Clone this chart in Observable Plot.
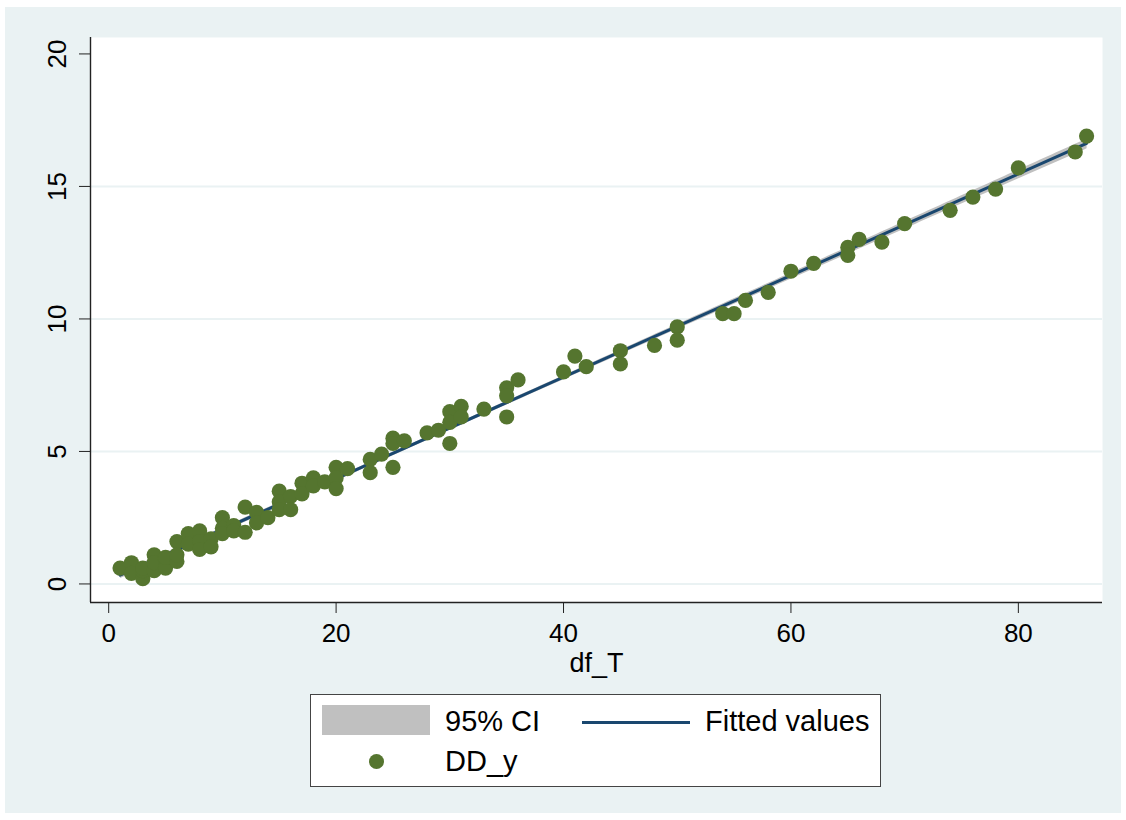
<!DOCTYPE html>
<html><head><meta charset="utf-8">
<script src="https://cdn.jsdelivr.net/npm/d3@7"></script>
<script src="https://cdn.jsdelivr.net/npm/@observablehq/plot@0.6"></script>
<style>
body{margin:0;background:#fff;width:1126px;height:820px;position:relative;overflow:hidden;font-family:"Liberation Sans",Arial,Helvetica,sans-serif;color:#000;}
#bg{position:absolute;left:5px;top:7px;width:1116px;height:806px;background:#EAF2F3;}
#chart{position:absolute;left:0;top:0;}
#legend{position:absolute;left:310px;top:694px;width:571px;height:93px;box-sizing:border-box;border:1.5px solid #444;background:#fff;}
#legend .it{position:absolute;}
#legend .tx{position:absolute;font-size:29px;line-height:30px;white-space:nowrap;}
</style></head>
<body>
<div id="bg"></div>
<div id="chart"></div>
<div id="legend">
  <div class="it" style="left:11px;top:10px;width:108px;height:30px;background:#C0C0C0;"></div>
  <div class="tx" style="left:134px;top:11px;">95% CI</div>
  <div class="it" style="left:271px;top:26px;width:108px;height:3px;background:#1A476F;"></div>
  <div class="tx" style="left:394px;top:11px;">Fitted values</div>
  <div class="it" style="left:58px;top:59px;width:15px;height:15px;border-radius:50%;background:#55752F;"></div>
  <div class="tx" style="left:134px;top:51px;">DD_y</div>
</div>
<script>
const dfT = [1,2,2,3,3,3,4,4,4,5,5,5,6,6,6,7,7,8,8,8,9,9,10,10,10,11,11,12,12,13,13,14,15,15,15,16,16,17,17,18,18,19,20,20,20,21,23,23,24,25,25,25,26,28,29,30,30,30,31,31,33,35,35,35,36,40,41,42,45,45,48,50,50,54,55,56,58,60,62,65,65,66,68,70,74,76,78,80,85,86];
const DDy = [0.6,0.8,0.4,0.2,0.5,0.6,1.1,0.5,0.8,0.9,0.6,1.0,1.6,0.85,1.1,1.9,1.5,2.0,1.6,1.3,1.7,1.4,2.5,2.1,1.9,2.2,2.0,2.9,1.95,2.7,2.3,2.5,3.5,3.1,2.8,3.3,2.8,3.8,3.4,4.0,3.7,3.85,4.4,4.0,3.6,4.35,4.7,4.2,4.9,5.5,5.3,4.4,5.4,5.7,5.8,6.5,6.1,5.3,6.7,6.3,6.6,7.4,7.1,6.3,7.7,8.0,8.6,8.2,8.8,8.3,9.0,9.7,9.2,10.2,10.2,10.7,11.0,11.8,12.1,12.7,12.4,13.0,12.9,13.6,14.1,14.6,14.9,15.7,16.3,16.9];
const xTicks = [0,20,40,60,80];
const yTicks = [0,5,10,15,20];
const gridTicks = [0,5,10,15];
const xDomain = [-1.6, 87.4];
const yDomain = [-0.70, 20.62];
const xTitle = "df_T";

const data = dfT.map((x, i) => ({x, y: DDy[i]}));
const font = '"Liberation Sans", Arial, Helvetica, sans-serif';

const chart = Plot.plot({
  width: 1126,
  height: 700,
  marginLeft: 90,
  marginRight: 24,
  marginTop: 37,
  marginBottom: 98,
  x: {domain: xDomain},
  y: {domain: yDomain},
  style: {background: "transparent", fontFamily: font, fontSize: "26px", color: "#000", overflow: "visible"},
  marks: [
    Plot.frame({fill: "white", stroke: null}),
    Plot.ruleY(gridTicks, {stroke: "#EAF2F3", strokeWidth: 2}),
    Plot.linearRegressionY(data, {x: "x", y: "y", ci: 0.95, stroke: "#1A476F", strokeWidth: 3, fill: "#C0C0C0", fillOpacity: 1}),
    Plot.dot(data, {x: "x", y: "y", r: 7.6, fill: "#55752F", stroke: null}),
    Plot.ruleX([xDomain[0]], {stroke: "#222", strokeWidth: 1.4}),
    Plot.ruleY([yDomain[0]], {stroke: "#222", strokeWidth: 1.4}),
    Plot.axisX(xTicks, {tickSize: 11, tickPadding: 10, label: null, fontSize: 26, stroke: "#222"}),
    Plot.axisY(yTicks, {tickSize: 11, label: null, tickFormat: () => "", stroke: "#222"}),
    Plot.text(yTicks, {y: d => d, text: d => String(d), frameAnchor: "left", dx: -33, rotate: -90, fontSize: 26, textAnchor: "middle", lineAnchor: "middle"}),
    Plot.text([xTitle], {frameAnchor: "bottom", dy: 50, lineAnchor: "top", fontSize: 27})
  ]
});
document.getElementById("chart").appendChild(chart);
</script>
</body></html>
